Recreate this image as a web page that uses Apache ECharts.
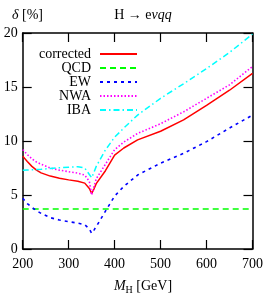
<!DOCTYPE html>
<html><head><meta charset="utf-8">
<script src="https://cdn.jsdelivr.net/npm/echarts@6/dist/echarts.min.js"></script>
<style>html,body{margin:0;padding:0;background:#fff}#c{width:266px;height:293px}</style>
</head><body><div id="c"></div>
<script>
const masses = [200,210,220,230,240,260,280,300,320,335,345,350,355,360,380,400,420,450,500,550,600,650,700];
const corrected = [8.6,8.1,7.65,7.3,7.05,6.75,6.55,6.4,6.28,6.1,5.6,5.15,5.55,6.05,7.25,8.7,9.35,10.1,10.9,11.95,13.3,14.7,16.27];
const qcd = [3.7,3.7,3.7,3.7,3.7,3.7,3.7,3.7,3.7,3.7,3.7,3.7,3.7,3.7,3.7,3.7,3.7,3.7,3.7,3.7,3.7,3.7,3.7];
const ew = [4.7,4.2,3.85,3.55,3.3,2.9,2.68,2.53,2.4,2.25,1.85,1.45,1.75,2.07,3.5,4.9,5.8,6.85,7.95,8.86,9.94,11.2,12.4];
const nwa = [9.2,8.75,8.35,8.05,7.85,7.5,7.3,7.16,7.02,6.85,6.25,5.0,5.75,6.5,7.85,9.2,9.9,10.7,11.6,12.7,13.95,15.2,16.9];
const iba = [7.3,7.32,7.34,7.36,7.38,7.45,7.52,7.57,7.62,7.5,6.9,6.6,7.1,7.65,9.17,10.35,11.2,12.4,13.95,15.3,16.7,18.2,19.9];
const xTicks = [200,300,400,500,600,700];
const yTicks = [0,5,10,15,20];
const names = ['corrected','QCD','EW','NWA','IBA'];

const F = 'Liberation Serif, DejaVu Serif, serif';
const FS = 14;
const pair = a => masses.map((m,i)=>[m,a[i]]);
const mk = (name, data, color, type, w) => ({
  name, type:'line', data:pair(data), showSymbol:false, symbol:'none', smooth:false,
  lineStyle:{color, width:w, type}, itemStyle:{color}, animation:false, z: 3
});
const series = [
  mk(names[0], corrected, '#ff0000', 'solid', 1.5),
  mk(names[1], qcd, '#00ff00', [6,4], 1.5),
  mk(names[2], ew, '#0000ff', [3,4], 1.6),
  mk(names[3], nwa, '#ff00ff', [1.5,2], 1.6),
  mk(names[4], iba, '#00ffff', [6,3,1.5,3], 1.5)
];
const legendTops = [47, 61, 75, 89, 103];
const legends = names.map((n,i)=>({
  data:[n], orient:'vertical', align:'right', right:128, top:legendTops[i],
  itemWidth:37, itemHeight:14, padding:0,
  itemStyle:{opacity:0},
  textStyle:{fontFamily:F, fontSize:FS, color:'#000', padding:[0,4,0,0]},
  selectedMode:false
}));
const axisCommon = {
  axisLine:{show:true, onZero:false, lineStyle:{color:'#000', width:1.5}},
  axisTick:{show:true, inside:true, length:9, lineStyle:{color:'#000', width:1.2}},
  splitLine:{show:false}
};
const rs = {fontFamily:F,fontSize:FS,color:'#000',fontWeight:'normal'};
const is = {fontFamily:F,fontSize:FS,color:'#000',fontWeight:'normal',fontStyle:'italic'};
const chart = echarts.init(document.getElementById('c'), null, {renderer:'canvas'});
chart.setOption({
  animation:false,
  backgroundColor:'#fff',
  grid:{left:22.7, right:12, top:33, bottom:44, containLabel:false},
  title:[{
    text:'{r|H → e}{i|νqq}', left:138, top:3, textAlign:'center',
    textStyle:{fontWeight:'normal', rich:{r:rs, i:is}}
  },{
    text:'{i|δ}{r| [%]}', left:7, top:3,
    textStyle:{fontWeight:'normal', rich:{r:rs, i:is}}
  },{
    text:'{i|M}{s|H}{r| [GeV]}', left:138, top:273, textAlign:'center',
    textStyle:{fontWeight:'normal', rich:{r:rs, i:is, s:{fontFamily:F,fontSize:10,color:'#000',fontWeight:'normal',verticalAlign:'bottom',padding:[7,0,0,0]}}}
  }],
  legend:legends,
  xAxis:[
    Object.assign({type:'value', min:xTicks[0], max:xTicks[xTicks.length-1], interval:100, position:'bottom',
      axisLabel:{fontFamily:F, fontSize:FS, color:'#000', margin:8}}, axisCommon),
    Object.assign({type:'value', min:xTicks[0], max:xTicks[xTicks.length-1], interval:100, position:'top',
      axisLabel:{show:false}}, axisCommon)
  ],
  yAxis:[
    Object.assign({type:'value', min:yTicks[0], max:yTicks[yTicks.length-1], interval:5, position:'left',
      axisLabel:{fontFamily:F, fontSize:FS, color:'#000', margin:5}}, axisCommon),
    Object.assign({type:'value', min:yTicks[0], max:yTicks[yTicks.length-1], interval:5, position:'right',
      axisLabel:{show:false}}, axisCommon)
  ],
  series
});
</script></body></html>
